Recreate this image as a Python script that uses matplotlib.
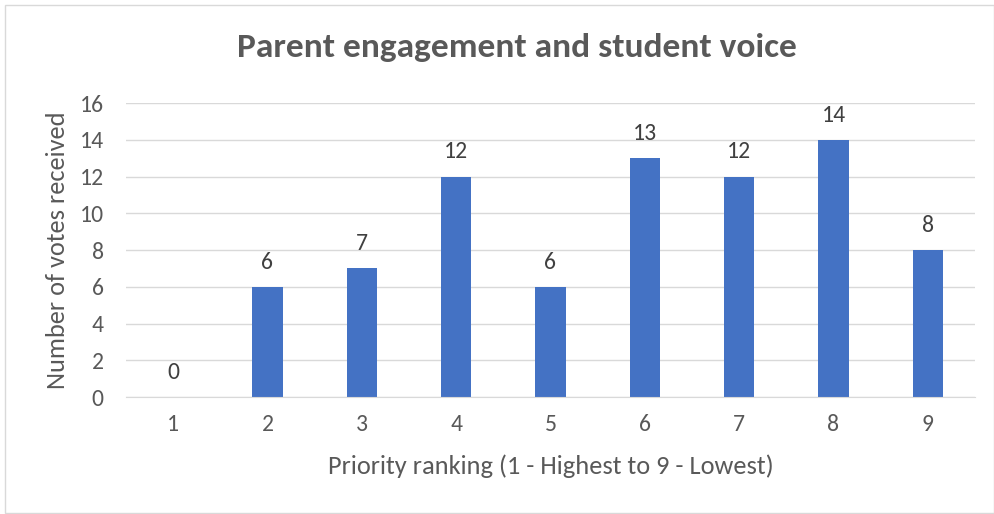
import matplotlib.pyplot as plt
from matplotlib.patches import Rectangle

ranks = ["1", "2", "3", "4", "5", "6", "7", "8", "9"]
votes = [0, 6, 7, 12, 6, 13, 12, 14, 8]
yticks = [0, 2, 4, 6, 8, 10, 12, 14, 16]

plt.rcParams["font.family"] = ["Carlito", "Lato", "DejaVu Sans"]
text_col = "#595959"
bar_col = "#4472C4"

W, H = 995, 514
fig = plt.figure(figsize=(W / 100, H / 100), dpi=100)

# outer chart frame
fig.patches.append(Rectangle((5 / W, 1 / H), (W - 6) / W, (H - 6) / H,
                             transform=fig.transFigure, fill=False,
                             edgecolor="#D9D9D9", linewidth=1))

left, right, top, bottom = 126, 975, 103, 397
ax = fig.add_axes((left / W, 1 - bottom / H, (right - left) / W, (bottom - top) / H))

x = range(len(ranks))
bars = ax.bar(x, votes, width=0.32, color=bar_col, zorder=2)
for xi, v in zip(x, votes):
    ax.annotate(str(v), (xi, v), xytext=(0, 13), textcoords="offset points",
                ha="center", va="baseline", fontsize=17, color="#404040")

ax.set_xlim(-0.5, len(ranks) - 0.5)
ax.set_ylim(0, 16)
ax.set_yticks(yticks)
ax.set_xticks(list(x))
ax.set_xticklabels(ranks)
ax.grid(axis="y", color="#D9D9D9", linewidth=1, zorder=0)
for s in ["top", "right", "left"]:
    ax.spines[s].set_visible(False)
ax.spines["bottom"].set_color("#D9D9D9")
ax.tick_params(length=0, labelsize=17, colors=text_col)
ax.tick_params(axis="x", pad=12)
ax.tick_params(axis="y", pad=16)

ax.set_xlabel("Priority ranking (1 - Highest to 9 - Lowest)", fontsize=19, color=text_col, labelpad=14)
ax.set_ylabel("Number of votes received", fontsize=19, color=text_col, labelpad=8)

fig.text(517 / W, 1 - 47 / H, "Parent engagement and student voice", ha="center", va="center",
         fontsize=25.5, fontweight="bold", color=text_col)

fig.savefig("out.png", dpi=100)
